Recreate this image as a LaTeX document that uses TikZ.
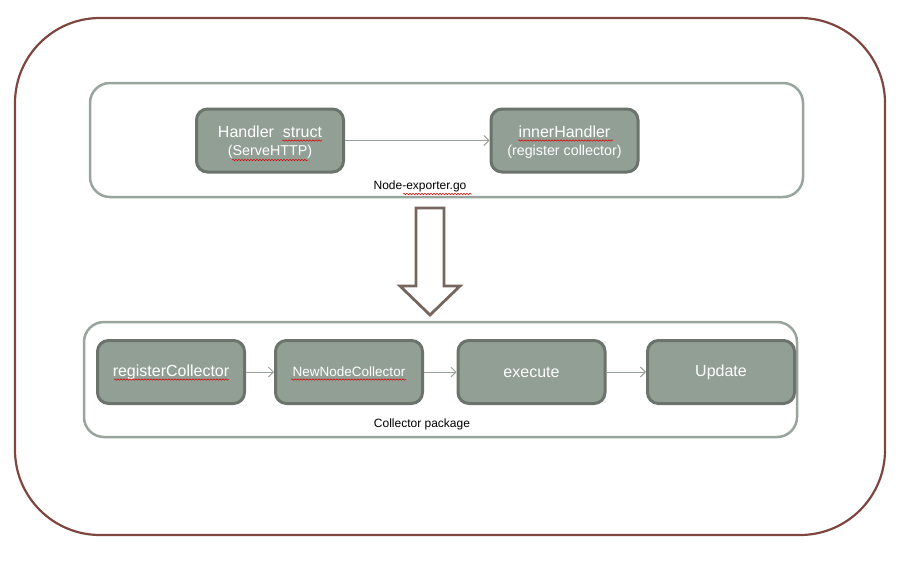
\documentclass[tikz,border=0pt]{standalone}
\usepackage{fontspec}
\setmainfont{Liberation Sans}
\usetikzlibrary{decorations.pathmorphing,arrows.meta}
\definecolor{outerc}{HTML}{7E463F}
\definecolor{groupc}{HTML}{98A49C}
\definecolor{nodefill}{HTML}{929F95}
\definecolor{nodeline}{HTML}{6A746C}
\definecolor{arrowc}{HTML}{76665E}
\definecolor{linkc}{HTML}{9AA29C}
\tikzset{
  x=1pt,y=-1pt,
  group/.style={draw=groupc,line width=2.5pt,rounded corners=20pt},
  box/.style={draw=nodeline,fill=nodefill,line width=3pt,rounded corners=11pt,
    minimum width=147pt,minimum height=63pt,text=white,align=center,inner sep=0pt},
  link/.style={draw=linkc,line width=1pt,-{Straight Barb[length=5pt,width=10pt]}},
  lab/.style={font=\fontsize{12}{14}\selectfont,text=black},
  squig/.style={draw=red!85!black,line width=0.5pt,decorate,decoration={snake,amplitude=0.7pt,segment length=3pt}}
}
\begin{document}
\begin{tikzpicture}
\useasboundingbox (0,0) rectangle (910,560);
\draw[draw=outerc,line width=2.2pt,rounded corners=85pt] (15,18) rectangle (885,535);
\draw[group] (90,83) rectangle (803,197);
\draw[group] (84,322) rectangle (797,437);
\node[lab] (lab1) at (420,186) {Node-exporter.go};
\node[lab] (lab2) at (422,424) {Collector package};
\node[box] (handler) at (270,140.5) {};
\node[box] (inner) at (564.5,140.5) {};
\node[text=white] (ht) at (270,132) {\fontsize{16}{18}\selectfont Handler\ \ struct};
\node[text=white] (hs) at (270,152) {\fontsize{14.3}{16}\selectfont (ServeHTTP)};
\node[text=white] (it) at (564.5,132) {\fontsize{16}{18}\selectfont innerHandler};
\node[text=white] (is) at (564.5,152) {\fontsize{14.3}{16}\selectfont (register collector)};
\node[box] (reg) at (171,372) {\fontsize{16}{18}\selectfont registerCollector};
\node[box] (newn) at (349,372) {\fontsize{13.5}{16}\selectfont NewNodeCollector};
\node[box] (exec) at (531.5,372) {\fontsize{16}{18}\selectfont execute};
\node[box] (upd) at (721,372) {\fontsize{16}{18}\selectfont Update};
\draw[link] (handler) -- (inner);
\draw[link] (reg) -- (newn);
\draw[link] (newn) -- (exec);
\draw[link] (exec) -- (upd);
% hollow block arrow
\draw[draw=arrowc,line width=2.8pt,fill=white,line join=miter]
  (416,208) -- (444,208) -- (444,286) -- (460,286) -- (430,315) -- (400,286) -- (416,286) -- cycle;
% spell-check underlines
\draw[squig] (282,140.5) -- (322,140.5);
\draw[squig] (232,160) -- (308,160);
\draw[squig] (518,140.5) -- (613,140.5);
\draw[squig] (114,379.5) -- (229,379.5);
\draw[squig] (291,379.5) -- (406,379.5);
\draw[squig] (403,194) -- (472,194);
\end{tikzpicture}
\end{document}
